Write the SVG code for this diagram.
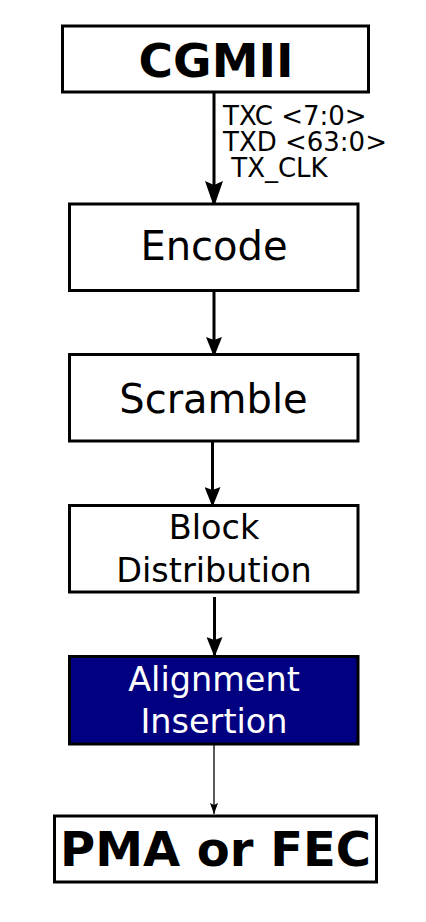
<svg xmlns="http://www.w3.org/2000/svg" width="426" height="922" viewBox="0 0 426 922">
<style>
.box{fill:#fff;stroke:#000;stroke-width:3}
.t{font-family:"DejaVu Sans",sans-serif;text-anchor:middle;fill:#000}
.b{font-weight:bold;font-size:47px}
.m{font-size:33.5px}
.c{stroke:#000;stroke-width:3;fill:none}
.lbl{font-family:"DejaVu Sans",sans-serif;font-size:26px;fill:#000}
</style>
<defs>
<marker id="ahbig" markerWidth="18" markerHeight="26" refX="9" refY="26" markerUnits="userSpaceOnUse" viewBox="0 0 18 26">
<path d="M0,0 L9,4 L18,0 L9,26 Z" fill="#000"/>
</marker>
<marker id="ahd" markerWidth="16" markerHeight="20" refX="8" refY="20" markerUnits="userSpaceOnUse" viewBox="0 0 16 20">
<path d="M0,0 L8,3 L16,0 L8,20 Z" fill="#000"/>
</marker>
<marker id="ahs" markerWidth="8" markerHeight="11" refX="4" refY="11" markerUnits="userSpaceOnUse" viewBox="0 0 8 11">
<path d="M0,0 L4,2 L8,0 L4,11 Z" fill="#000"/>
</marker>
</defs>
<g id="connectors">
<line class="c" x1="214" y1="92" x2="214" y2="207" marker-end="url(#ahbig)"/>
<line class="c" x1="214" y1="290" x2="214" y2="357" marker-end="url(#ahd)"/>
<line class="c" x1="212.5" y1="441" x2="212.5" y2="507" marker-end="url(#ahd)"/>
<line class="c" x1="214.5" y1="597" x2="214.5" y2="657" marker-end="url(#ahd)"/>
<line x1="214" y1="744" x2="214" y2="814" stroke="#000" stroke-width="1.3" marker-end="url(#ahs)"/>
<text class="lbl" x="223" y="125">TXC &lt;7:0&gt;</text>
<text class="lbl" x="223" y="151">TXD &lt;63:0&gt;</text>
<text class="lbl" x="223" y="177" xml:space="preserve"> TX_CLK</text>
</g>
<g id="cgmii">
<rect class="box" x="62.5" y="26" width="306" height="66"/>
<text class="t b" x="216" y="77">CGMII</text>
</g>
<g id="encode">
<rect class="box" x="69.5" y="204" width="288.5" height="86.5"/>
<text class="t" x="214" y="260" font-size="40">Encode</text>
</g>
<g id="scramble">
<rect class="box" x="69.5" y="354.5" width="288.5" height="86.5"/>
<text class="t" x="213.5" y="412.5" font-size="40">Scramble</text>
</g>
<g id="block">
<rect class="box" x="69.5" y="505.5" width="288.5" height="86.5"/>
<text class="t m" x="214" y="539">Block</text>
<text class="t m" x="214" y="582">Distribution</text>
</g>
<g id="align">
<rect x="69.5" y="656.5" width="288.5" height="87.5" fill="#000080" stroke="#000" stroke-width="3"/>
<text class="t m" x="214" y="691" style="fill:#fff">Alignment</text>
<text class="t m" x="214" y="733" style="fill:#fff">Insertion</text>
</g>
<g id="pma">
<rect class="box" x="54.5" y="816" width="322" height="66"/>
<text class="t b" x="215.5" y="866" style="font-size:48px">PMA or FEC</text>
</g>
</svg>
